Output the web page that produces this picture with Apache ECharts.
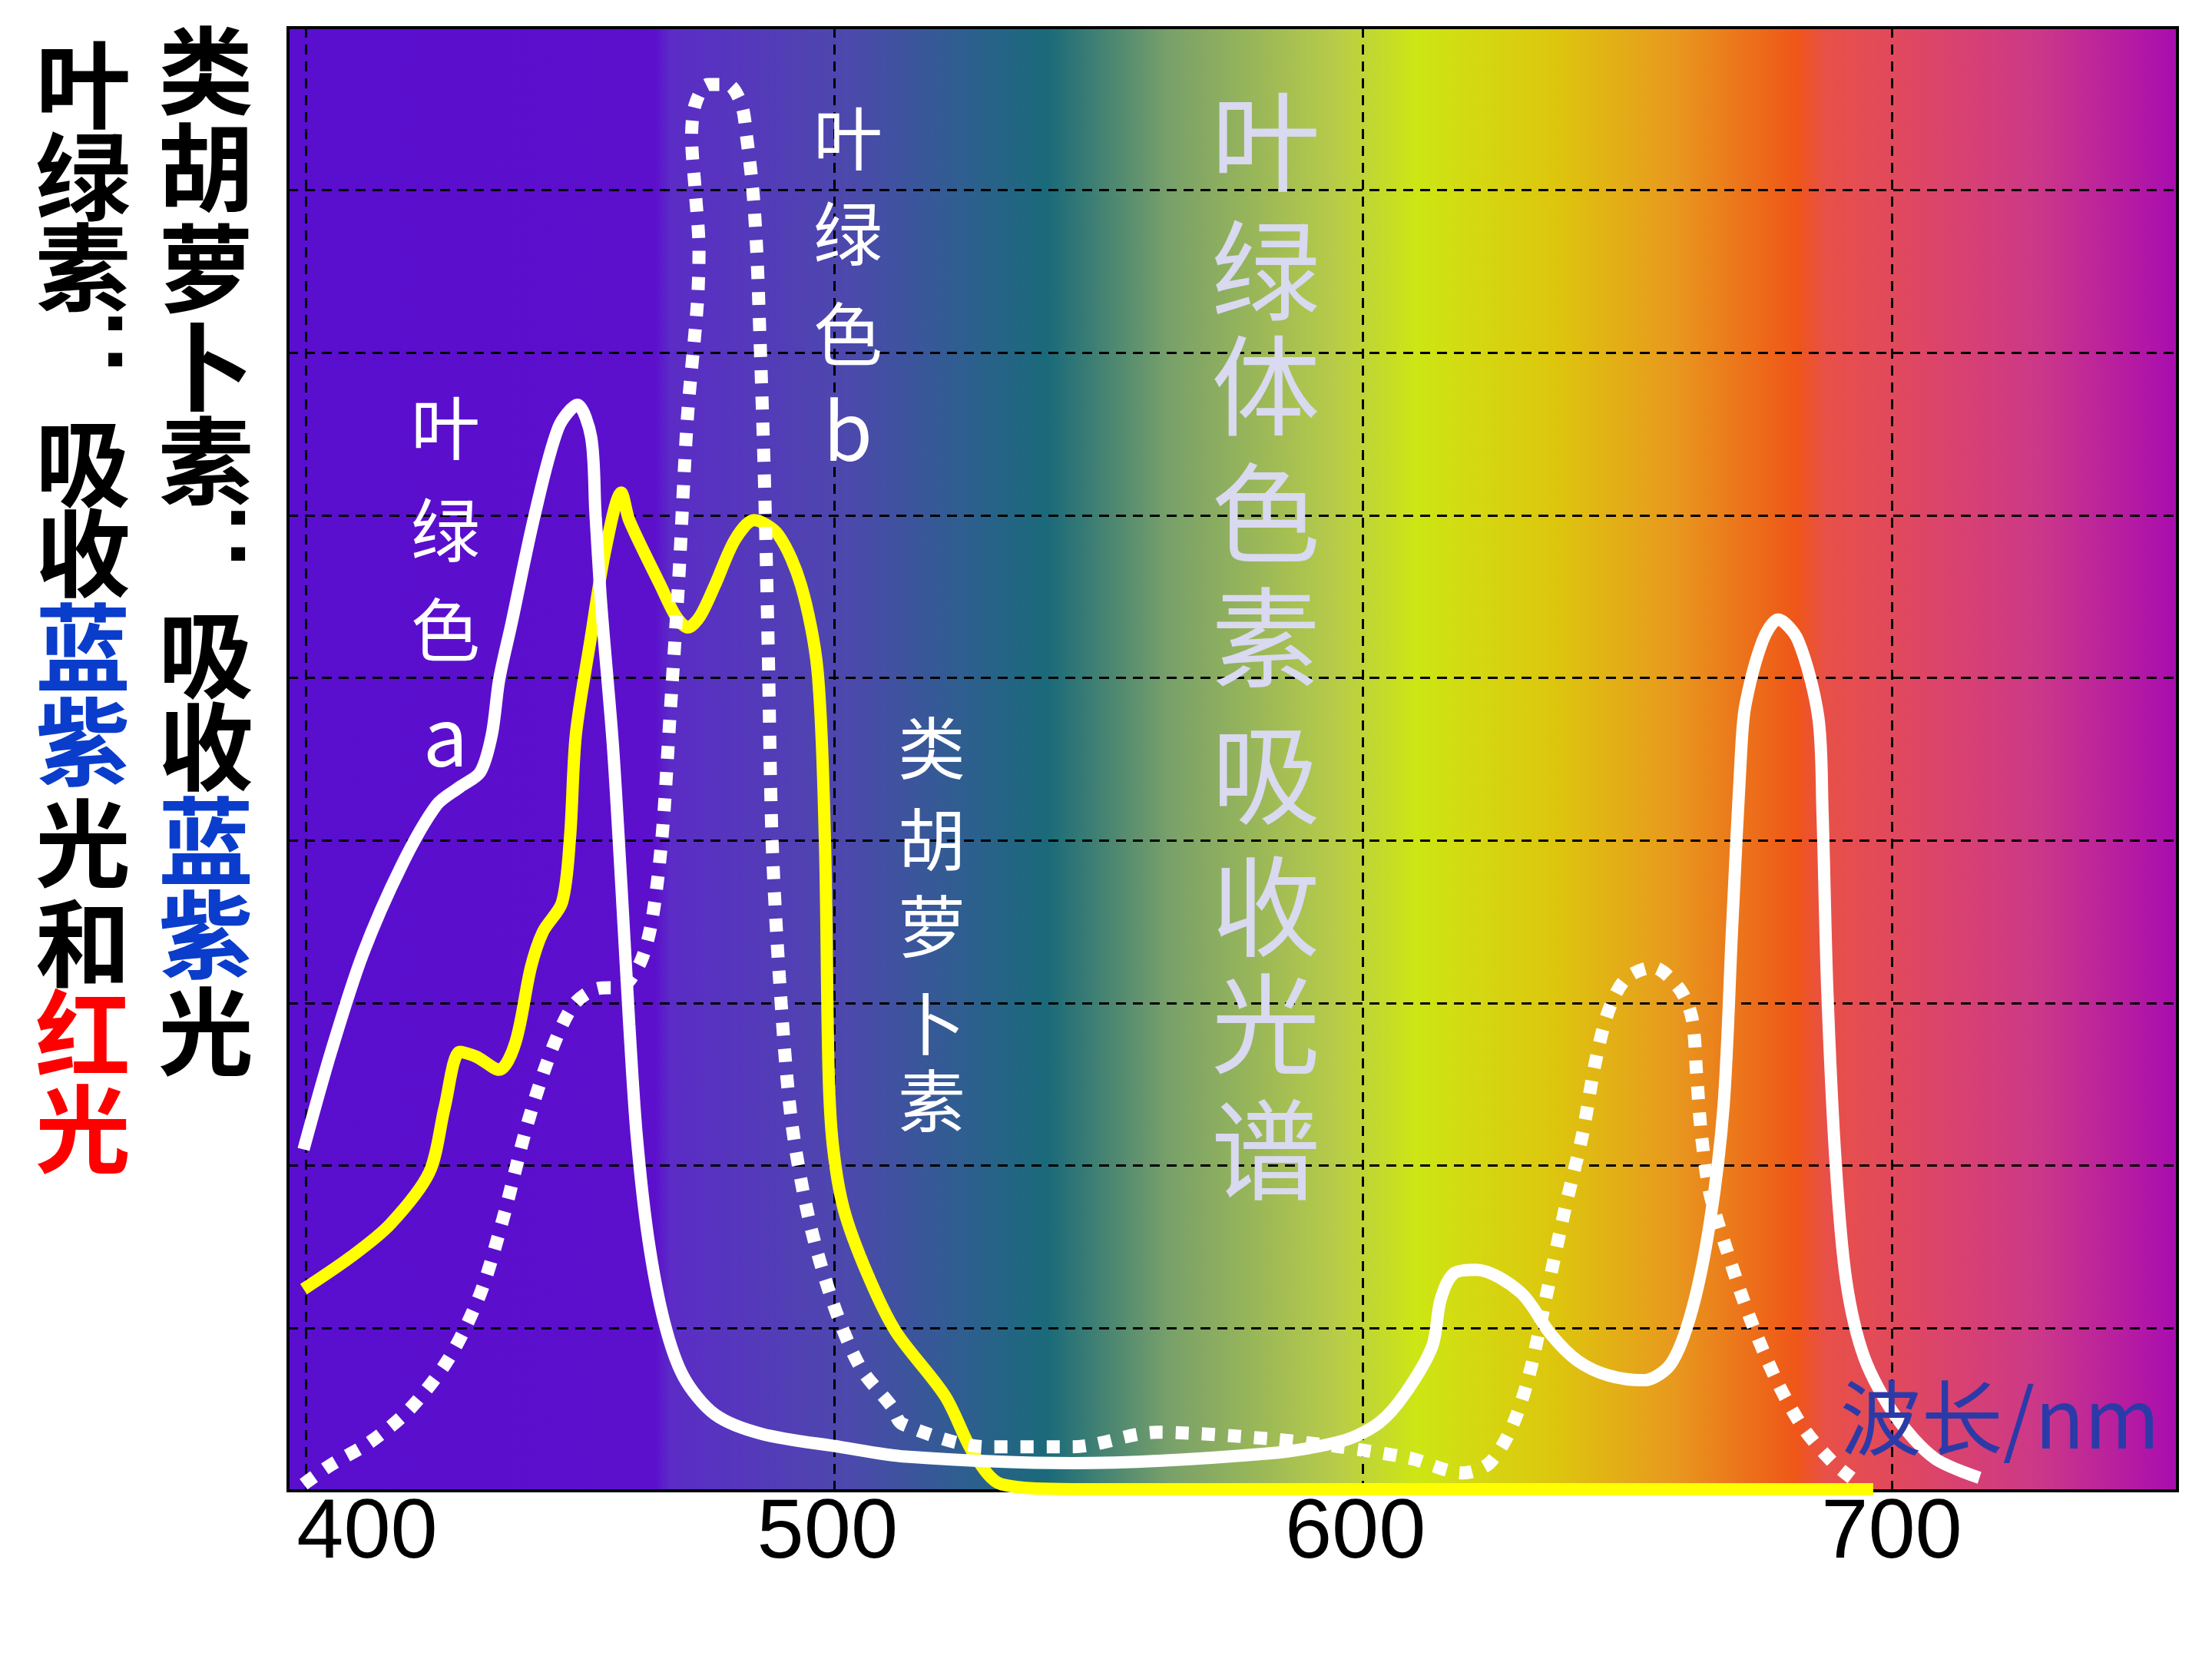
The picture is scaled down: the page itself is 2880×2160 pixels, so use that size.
<!DOCTYPE html>
<html><head><meta charset="utf-8">
<script src="https://cdn.jsdelivr.net/npm/echarts@6/dist/echarts.min.js"></script>
<style>html,body{margin:0;padding:0;background:#fff}#chart{width:2880px;height:2160px}</style>
</head><body><div id="chart"></div>
<script>
// ---- axis ticks ----
const xTickValues = [400, 500, 600, 700];
const xTickLabels = ['400', '500', '600', '700'];

// ---- chlorophyll a (solid white) ----
const chlaWavelength = [399.6,404.8,410.8,418.2,424.8,429.2,433.0,435.2,436.6,438.9,443.3,447.8,451.4,454.0,454.8,455.9,458.1,459.7,461.2,462.6,464.8,467.8,471.5,477.4,486.3,501.1,513.6,545.0,582.3,596.4,603.1,608.0,613.1,614.7,617.3,621.4,629.8,635.6,640.6,646.4,653.1,658.2,662.2,665.6,668.2,669.8,671.5,672.3,675.6,678.5,682.3,686.1,686.9,687.8,689.4,691.4,694.8,700.7,708.1,716.6];
const chlaAbsorb     = [2.10,2.70,3.30,3.85,4.22,4.33,4.42,4.65,4.99,5.33,6.00,6.54,6.68,6.48,6.02,5.45,4.59,3.73,2.87,2.19,1.55,1.04,0.70,0.47,0.35,0.27,0.21,0.17,0.23,0.31,0.42,0.60,0.89,1.18,1.34,1.36,1.22,0.96,0.80,0.71,0.68,0.78,1.11,1.65,2.37,3.46,4.54,4.83,5.23,5.36,5.23,4.76,4.18,3.09,2.01,1.29,0.82,0.46,0.20,0.08];

// ---- chlorophyll b (dotted white) ----
const chlbWavelength = [399.6,404.8,412.2,419.6,427.0,433.0,437.3,441.8,446.4,450.7,455.2,459.7,463.3,465.5,467.4,468.9,470.5,472.2,474.1,474.4,473.7,473.0,473.7,476.1,479.8,482.4,483.4,484.6,485.3,485.7,486.7,487.5,488.2,489.6,491.8,495.2,499.7,504.9,510.8,512.9,529.0,545.0,561.0,582.3,595.7,608.9,618.9,623.9,628.1,631.4,634.8,638.1,641.5,643.9,646.4,649.7,654.8,659.8,662.2,663.1,664.0,665.6,668.9,673.1,678.2,683.2,689.0,694.0];
const chlbAbsorb     = [0.04,0.16,0.30,0.50,0.81,1.21,1.67,2.24,2.70,2.99,3.09,3.10,3.25,3.51,4.02,4.76,5.57,6.60,7.31,7.64,7.99,8.33,8.53,8.65,8.65,8.53,8.33,7.99,7.64,7.31,6.31,5.16,4.02,3.16,2.30,1.67,1.16,0.76,0.52,0.41,0.27,0.27,0.36,0.32,0.27,0.20,0.11,0.17,0.39,0.71,1.22,1.72,2.19,2.63,2.95,3.15,3.22,3.09,2.91,2.56,2.19,1.83,1.47,1.07,0.68,0.39,0.17,0.04];

// ---- carotenoids (solid yellow) ----
const caroWavelength = [399.6,408.6,416.0,423.4,426.3,429.2,432.3,436.6,439.7,442.6,444.9,448.5,450.0,451.1,453.8,456.7,459.7,461.2,467.1,470.0,472.3,474.6,477.4,481.2,484.8,489.4,493.7,496.8,498.2,498.9,499.7,501.8,506.3,511.6,521.0,526.3,531.6,545.0,582.3,696.5];
const caroAbsorb     = [1.24,1.44,1.64,1.96,2.36,2.70,2.67,2.59,2.76,3.22,3.44,3.62,4.02,4.65,5.22,5.79,6.14,5.97,5.57,5.38,5.31,5.38,5.57,5.85,5.97,5.88,5.57,5.05,4.02,2.59,2.13,1.73,1.33,0.98,0.58,0.23,0.04,0.01,0.01,0.01];

// ---- texts ----
const col1Chars = ['叶','绿','素','：','吸','收','蓝','紫','光','和','红','光'];
const col2Chars = ['类','胡','萝','卜','素','：','吸','收','蓝','紫','光'];
const labelChlA = ['叶','绿','色','a'];
const labelChlB = ['叶','绿','色','b'];
const labelCaro = ['类','胡','萝','卜','素'];
const titleChars = ['叶','绿','体','色','素','吸','收','光','谱'];
const xAxisName = '波长/nm';

const zip = (xs, ys) => xs.map((x, i) => [x, ys[i]]);

const CJK = '"Noto Sans CJK SC", "Noto Sans", sans-serif';
const graphics = [];
function addChar(ch, x, y, size, color, weight) {
  const isColon = ch === '：';
  graphics.push({
    type: 'text', x: isColon ? x + 42 : x, y: isColon ? y - 8 : y, z: 100, silent: true,
    style: {
      text: isColon ? ':' : ch, fill: color,
      fontSize: isColon ? 128 : size,
      fontFamily: isColon ? '"Liberation Sans", Arial, sans-serif' : CJK,
      fontWeight: weight,
      align: 'center', verticalAlign: 'middle', textAlign: 'center', textVerticalAlign: 'middle'
    }
  });
}
const BLACK = '#000000', BLUE = '#0b3dcc', RED = '#ff0000';
const col1Colors = [BLACK,BLACK,BLACK,BLACK,BLACK,BLACK,BLUE,BLUE,BLACK,BLACK,RED,RED];
const col1Y = [110,230,348,450,603,720,843,966,1098,1228,1346,1470];
col1Chars.forEach((c, i) => addChar(c, 108, col1Y[i], 124, col1Colors[i], 'bold'));
const col2Colors = [BLACK,BLACK,BLACK,BLACK,BLACK,BLACK,BLACK,BLACK,BLUE,BLUE,BLACK];
const col2Y = [92,218,349,478,600,703,852,972,1095,1217,1343];
col2Chars.forEach((c, i) => addChar(c, 268, col2Y[i], 124, col2Colors[i], 'bold'));

const chlAY = [557,690,820,958];
labelChlA.forEach((c, i) => addChar(c, 580, chlAY[i], i === 3 ? 104 : 90, '#ffffff', 'normal'));
const chlBY = [180,304,435,560];
labelChlB.forEach((c, i) => addChar(c, 1104, chlBY[i], i === 3 ? 104 : 90, '#ffffff', 'normal'));
const caroY = [974,1093,1206,1333,1433];
labelCaro.forEach((c, i) => addChar(c, 1213, caroY[i], 88, '#ffffff', 'normal'));
const titleY = [184,352,502,668,830,1008,1180,1333,1497];
titleChars.forEach((c, i) => addChar(c, 1648, titleY[i], 142, '#d9d9f0', 'normal'));

graphics.push({
  type: 'text', x: 2812, y: 1846, z: 100, silent: true,
  style: { text: xAxisName, fill: '#2c3aa8', fontSize: 106, fontFamily: CJK,
    align: 'right', verticalAlign: 'middle', textAlign: 'right', textVerticalAlign: 'middle' }
});

const labelFont = { fontSize: 110, fontFamily: '"Liberation Sans", Arial, sans-serif', color: '#000' };
const labelPads = [[0,0,0,160],[0,18,0,0],[0,20,0,0],[0,0,0,0]];
const rich = {};
labelPads.forEach((p, i) => { rich['t' + i] = Object.assign({ padding: p }, labelFont); });

const bg = {
  type: 'linear', x: 0, y: 0, x2: 1, y2: 0,
  colorStops: [
    { offset: 0.000, color: '#5a0ece' },
    { offset: 0.195, color: '#5c10cc' },
    { offset: 0.203, color: '#5b2cc6' },
    { offset: 0.295, color: '#4d48ad' },
    { offset: 0.356, color: '#2f5e90' },
    { offset: 0.402, color: '#1a6a7a' },
    { offset: 0.466, color: '#78a06a' },
    { offset: 0.555, color: '#b8cc48' },
    { offset: 0.597, color: '#cde614' },
    { offset: 0.670, color: '#ddc60e' },
    { offset: 0.734, color: '#e8981e' },
    { offset: 0.798, color: '#ef5618' },
    { offset: 0.813, color: '#e85048' },
    { offset: 0.855, color: '#e04860' },
    { offset: 0.925, color: '#cc3888' },
    { offset: 1.000, color: '#a80cb0' }
  ]
};

const splitStyle = { color: '#000', width: 3, type: [13, 9] };

const chart = echarts.init(document.getElementById('chart'), null, { renderer: 'canvas' });
chart.setOption({
  animation: false,
  backgroundColor: '#ffffff',
  grid: { left: 375, right: 45, top: 36, bottom: 219, show: true, backgroundColor: bg,
          borderColor: '#000', borderWidth: 4 },
  xAxis: {
    type: 'value', min: 396.66, max: 754.04,
    axisLine: { show: false },
    axisTick: { show: false, customValues: xTickValues },
    axisLabel: {
      customValues: xTickValues, margin: 2,
      formatter: v => { const i = xTickValues.indexOf(v); return '{t' + i + '|' + xTickLabels[i] + '}'; },
      rich: rich, fontSize: 110, fontFamily: '"Liberation Sans", Arial, sans-serif', color: '#000'
    },
    splitLine: { show: true, lineStyle: splitStyle }
  },
  yAxis: {
    type: 'value', min: 0, max: 9, interval: 1,
    axisLine: { show: false }, axisTick: { show: false }, axisLabel: { show: false },
    splitLine: { show: true, lineStyle: splitStyle }
  },
  series: [
    { name: '类胡萝卜素', type: 'line', data: zip(caroWavelength, caroAbsorb), symbol: 'none', smooth: 0.3,
      lineStyle: { color: '#ffff00', width: 16, cap: 'butt' }, z: 3, silent: true },
    { name: '叶绿素b', type: 'line', data: zip(chlbWavelength, chlbAbsorb), symbol: 'none', smooth: 0.3,
      lineStyle: { color: '#ffffff', width: 17, type: [17, 17], cap: 'butt' }, z: 4, silent: true },
    { name: '叶绿素a', type: 'line', data: zip(chlaWavelength, chlaAbsorb), symbol: 'none', smooth: 0.3,
      lineStyle: { color: '#ffffff', width: 16, cap: 'butt' }, z: 5, silent: true }
  ],
  graphic: graphics
});
</script></body></html>
